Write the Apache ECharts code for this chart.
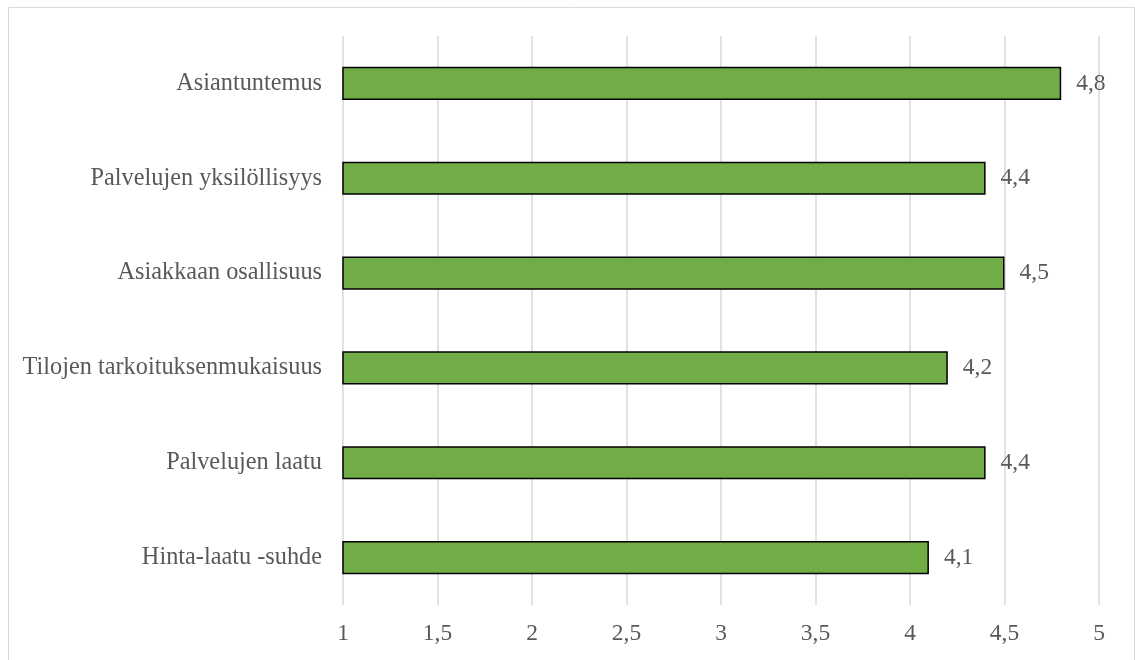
<!DOCTYPE html>
<html>
<head>
<meta charset="utf-8">
<script src="https://cdn.jsdelivr.net/npm/echarts@6/dist/echarts.min.js"></script>
<style>
html,body{margin:0;padding:0;background:#fff;}
#c{width:1135px;height:660px;}
</style>
</head>
<body>
<div id="c"></div>
<script>
const categories = ["Hinta-laatu -suhde","Palvelujen laatu","Tilojen tarkoituksenmukaisuus","Asiakkaan osallisuus","Palvelujen yksilöllisyys","Asiantuntemus"];
const values = [4.1, 4.4, 4.2, 4.5, 4.4, 4.8];
const xTicks = [1, 1.5, 2, 2.5, 3, 3.5, 4, 4.5, 5];

const fmt = v => String(v).replace('.', ',');
const font = '"Liberation Serif","Times New Roman",serif';

const chart = echarts.init(document.getElementById('c'));
chart.setOption({
  animation: false,
  graphic: [{
    type: 'rect',
    shape: {x: 8.5, y: 7.5, width: 1126, height: 670},
    style: {fill: 'none', stroke: '#d9d9d9', lineWidth: 1},
    silent: true, z: -1
  }],
  grid: {left: 343, right: 36, top: 36, bottom: 55, containLabel: false},
  xAxis: {
    type: 'value',
    min: xTicks[0], max: xTicks[xTicks.length - 1], interval: 0.5,
    axisLine: {show: false},
    axisTick: {show: false},
    splitLine: {show: true, lineStyle: {color: '#d9d9d9', width: 1.5}},
    axisLabel: {
      formatter: v => fmt(v),
      color: '#595959', fontFamily: font, fontSize: 23.5, margin: 17
    }
  },
  yAxis: {
    type: 'category',
    data: categories,
    axisLine: {show: false},
    axisTick: {show: false},
    axisLabel: {color: '#595959', fontFamily: font, fontSize: 24.3, margin: 21}
  },
  series: [{
    type: 'bar',
    data: values,
    barWidth: '35%',
    itemStyle: {color: '#70ad47', borderColor: '#000', borderWidth: 1.5},
    label: {
      show: true, position: 'right', distance: 15,
      formatter: p => fmt(p.value),
      color: '#595959', fontFamily: font, fontSize: 23.5
    }
  }]
});
</script>
</body>
</html>
